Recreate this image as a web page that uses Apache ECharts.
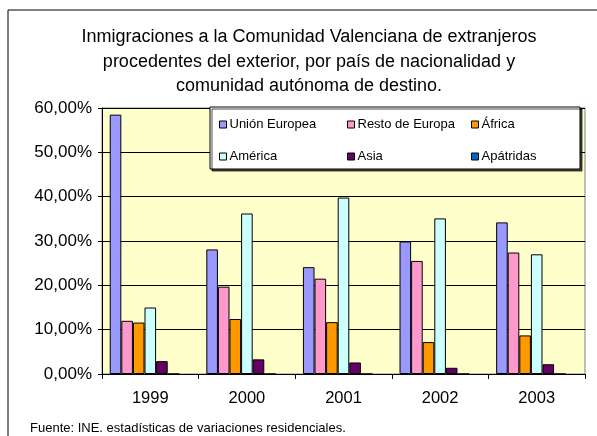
<!DOCTYPE html>
<html>
<head>
<meta charset="utf-8">
<script src="https://cdn.jsdelivr.net/npm/echarts@6/dist/echarts.min.js"></script>
<style>
  html, body { margin: 0; padding: 0; background: #fff; }
  #chart { width: 597px; height: 436px; }
</style>
</head>
<body>
<div id="chart"></div>
<script>
// datos (porcentaje)
var years = ['1999', '2000', '2001', '2002', '2003'];
var unionEuropea = [58.5, 28.1, 24.1, 29.9, 34.2];
var restoEuropa = [12.0, 19.7, 21.5, 25.5, 27.4];
var africa = [11.6, 12.4, 11.7, 7.2, 8.7];
var america = [15.0, 36.2, 39.8, 35.1, 27.0];
var asia = [2.9, 3.3, 2.6, 1.4, 2.2];
var apatridas = [0, 0, 0, 0, 0];
var oceania = [0, 0, 0, 0, 0];   // hueco vacío al final de cada grupo
var yTicks = [0, 10, 20, 30, 40, 50, 60];

var chart = echarts.init(document.getElementById('chart'));

function serie(name, data, color) {
  return {
    name: name,
    type: 'bar',
    data: data,
    barGap: '0%',
    barCategoryGap: '16%',
    itemStyle: { color: color, borderColor: '#000', borderWidth: 1 },
    z: 2
  };
}

var legendBase = {
  orient: 'vertical',
  itemGap: 19,
  itemWidth: 7,
  itemHeight: 7,
  icon: 'rect',
  z: 30,
  textStyle: { fontFamily: 'Liberation Sans', fontSize: 13, color: '#000', padding: [0, 0, 0, -2] },
  itemStyle: { borderColor: '#000', borderWidth: 1 }
};

var option = {
  backgroundColor: '#fff',
  animation: false,
  title: {
    text: 'Inmigraciones a la Comunidad Valenciana de extranjeros\nprocedentes del exterior, por país de nacionalidad y\ncomunidad autónoma de destino.',
    left: 304,
    top: 20,
    textAlign: 'center',
    textStyle: { fontFamily: 'Liberation Sans', fontSize: 18, fontWeight: 'normal', color: '#000', lineHeight: 24.5 }
  },
  legend: [
    Object.assign({}, legendBase, { left: 214, top: 113, data: ['Unión Europea', 'América'] }),
    Object.assign({}, legendBase, { left: 342, top: 113, data: ['Resto de Europa', 'Asia'] }),
    Object.assign({}, legendBase, { left: 466, top: 113, data: ['África', 'Apátridas'] })
  ],
  grid: {
    left: 102, right: 12, top: 108, bottom: 62,
    show: true,
    backgroundColor: '#FFFFCC',
    borderColor: '#808080',
    borderWidth: 1
  },
  xAxis: {
    type: 'category',
    data: years,
    axisLine: { lineStyle: { color: '#000' } },
    axisTick: { show: true, length: 5, lineStyle: { color: '#000' } },
    axisLabel: { fontFamily: 'Liberation Sans', fontSize: 16.5, color: '#000', margin: 16 }
  },
  yAxis: {
    type: 'value',
    min: yTicks[0],
    max: yTicks[yTicks.length - 1],
    interval: 10,
    axisLine: { show: true, lineStyle: { color: '#000' } },
    axisTick: { show: true, length: 4, lineStyle: { color: '#000' } },
    splitLine: { lineStyle: { color: '#000', width: 1 } },
    axisLabel: {
      fontFamily: 'Liberation Sans', fontSize: 17, color: '#000', margin: 10,
      formatter: function (v) { return v.toFixed(2).replace('.', ',') + '%'; }
    }
  },
  graphic: [
    {
      type: 'rect',
      shape: { x: 8, y: 10, width: 620, height: 460 },
      style: { fill: 'none', stroke: '#000', lineWidth: 1 },
      z: 0
    },
    {
      type: 'rect',
      shape: { x: 210, y: 107, width: 370, height: 62 },
      style: { fill: '#fff', stroke: '#000', lineWidth: 1, shadowColor: 'rgba(0,0,0,0.7)', shadowOffsetX: 2, shadowOffsetY: 2 },
      z: 20
    },
    {
      type: 'text',
      left: 30,
      top: 422,
      style: { text: 'Fuente: INE. estadísticas de variaciones residenciales.', fontFamily: 'Liberation Sans', fontSize: 13, fill: '#000' },
      z: 20
    }
  ],
  series: [
    serie('Unión Europea', unionEuropea, '#9999FF'),
    serie('Resto de Europa', restoEuropa, '#FF99CC'),
    serie('África', africa, '#FF9900'),
    serie('América', america, '#CCFFFF'),
    serie('Asia', asia, '#660066'),
    serie('Apátridas', apatridas, '#0066CC'),
    serie('Oceanía', oceania, 'transparent')
  ]
};

option.series[6].itemStyle.borderWidth = 0;

chart.setOption(option);
</script>
</body>
</html>
